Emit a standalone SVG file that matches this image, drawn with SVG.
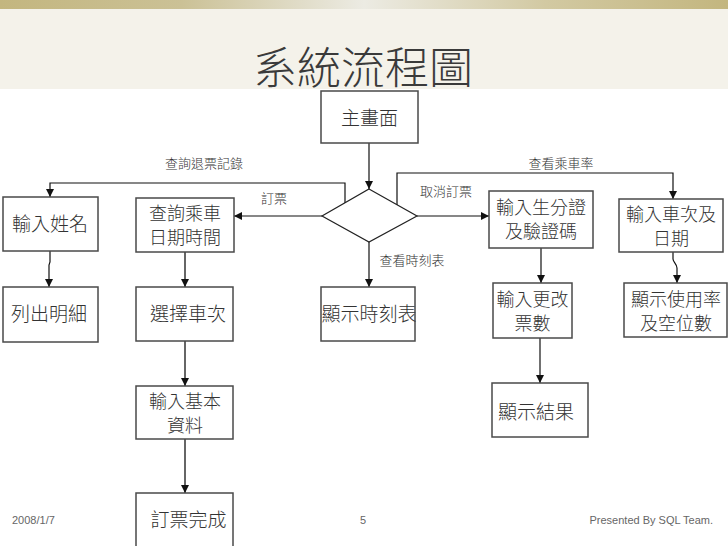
<svg xmlns="http://www.w3.org/2000/svg" width="728" height="546" viewBox="0 0 728 546">
<defs>
<linearGradient id="band" x1="0" y1="0" x2="1" y2="0">
<stop offset="0" stop-color="#c3b67f"/>
<stop offset="0.25" stop-color="#cbc196"/>
<stop offset="0.5" stop-color="#ecebe3"/>
<stop offset="0.75" stop-color="#d2c9a2"/>
<stop offset="1" stop-color="#c3b67f"/>
</linearGradient>
<marker id="ah" viewBox="0 0 10 10" refX="10" refY="5" markerWidth="9" markerHeight="8" markerUnits="userSpaceOnUse" orient="auto">
<path d="M0,0 L10,5 L0,10 Z" fill="#111"/>
</marker>
<style>
.box{fill:#fff;stroke:#4a4a4a;stroke-width:1.5}
.nt{font-family:"Noto Sans CJK TC","Noto Sans CJK SC",sans-serif;font-size:19px;font-weight:300;fill:#333;text-anchor:middle}
.n2{font-family:"Noto Sans CJK TC","Noto Sans CJK SC",sans-serif;font-size:18px;font-weight:300;fill:#333;text-anchor:middle}
.lb{font-family:"Noto Sans CJK TC","Noto Sans CJK SC",sans-serif;font-size:13px;font-weight:300;fill:#333;text-anchor:middle}
.ft{font-family:"Liberation Sans",Arial,sans-serif;font-size:11px;fill:#666}
.c{fill:none;stroke:#111;stroke-width:1.2;marker-end:url(#ah)}
.g{fill:none;stroke:#666;stroke-width:2;marker-end:url(#ah)}
</style>
</defs>
<rect x="0" y="0" width="728" height="546" fill="#fff"/>
<rect x="0" y="0" width="728" height="89" fill="#f4f2ea"/>
<rect x="0" y="0" width="728" height="9" fill="url(#band)"/>
<text x="363" y="84" font-family="'Noto Sans CJK TC','Noto Sans CJK SC',sans-serif" font-size="44" font-weight="300" fill="#3a3a3a" text-anchor="middle">系統流程圖</text>

<g id="connectors">
<path class="c" d="M369,143 V189"/>
<path class="c" d="M322,216 H234"/>
<path class="c" d="M345,203 V183 H50 V197"/>
<path class="c" d="M417,216 H489"/>
<path class="c" d="M397,205 V173 H673 V199"/>
<path class="c" d="M369,242 V287"/>
<path class="c" d="M50,251 V262 L49,265 V287"/>
<path class="g" d="M185,252 V287"/>
<path class="g" d="M185,341 V386"/>
<path class="g" d="M185,439 V493"/>
<path class="c" d="M541,248 V283"/>
<path class="c" d="M540,338 V383"/>
<path class="c" d="M673,252 V259 C673,262 677,264 677,268 V283"/>
<text class="lb" x="204" y="168">查詢退票記錄</text>
<text class="lb" x="274" y="203">訂票</text>
<text class="lb" x="561" y="168">查看乘車率</text>
<text class="lb" x="446" y="196">取消訂票</text>
<text class="lb" x="412" y="265">查看時刻表</text>
</g>

<g id="main"><rect class="box" x="321" y="91" width="97" height="52"/><text class="nt" x="369.5" y="125">主畫面</text></g>
<g id="decision"><polygon points="369,189 417,216 369,242 322,216" fill="#fff" stroke="#222" stroke-width="1.2"/></g>
<g id="inputName"><rect class="box" x="3" y="197" width="95" height="54"/><text class="nt" x="50" y="231">輸入姓名</text></g>
<g id="queryDate"><rect class="box" x="136" y="198" width="98" height="54"/><text class="n2" x="185" y="220">查詢乘車</text><text class="n2" x="185" y="244">日期時間</text></g>
<g id="inputId"><rect class="box" x="489" y="191" width="104" height="57"/><text class="n2" x="541" y="214">輸入生分證</text><text class="n2" x="541" y="238">及驗證碼</text></g>
<g id="inputTrain"><rect class="box" x="619" y="199" width="104" height="53"/><text class="n2" x="671" y="221">輸入車次及</text><text class="n2" x="671" y="245">日期</text></g>
<g id="listDetail"><rect class="box" x="3" y="287" width="95" height="55"/><text class="nt" x="49" y="321">列出明細</text></g>
<g id="chooseTrain"><rect class="box" x="136" y="287" width="97" height="54"/><text class="nt" x="188" y="321">選擇車次</text></g>
<g id="showTimetable"><rect class="box" x="321" y="287" width="94" height="54"/><text class="nt" x="369" y="321">顯示時刻表</text></g>
<g id="changeCount"><rect class="box" x="493" y="283" width="79" height="55"/><text class="n2" x="532.5" y="306">輸入更改</text><text class="n2" x="532.5" y="330">票數</text></g>
<g id="showUsage"><rect class="box" x="624" y="283" width="103" height="54"/><text class="n2" x="676" y="306">顯示使用率</text><text class="n2" x="676" y="330">及空位數</text></g>
<g id="inputBasic"><rect class="box" x="136" y="386" width="97" height="53"/><text class="n2" x="185" y="408">輸入基本</text><text class="n2" x="185" y="432">資料</text></g>
<g id="showResult"><rect class="box" x="492" y="383" width="96" height="54"/><text class="nt" x="536" y="419">顯示結果</text></g>
<g id="bookDone"><rect class="box" x="136" y="493" width="97" height="60"/><text class="nt" x="188.5" y="527">訂票完成</text></g>

<text class="ft" x="12" y="524">2008/1/7</text>
<text class="ft" x="363" y="524" text-anchor="middle">5</text>
<text class="ft" x="713" y="524" text-anchor="end">Presented By SQL Team.</text>
</svg>
